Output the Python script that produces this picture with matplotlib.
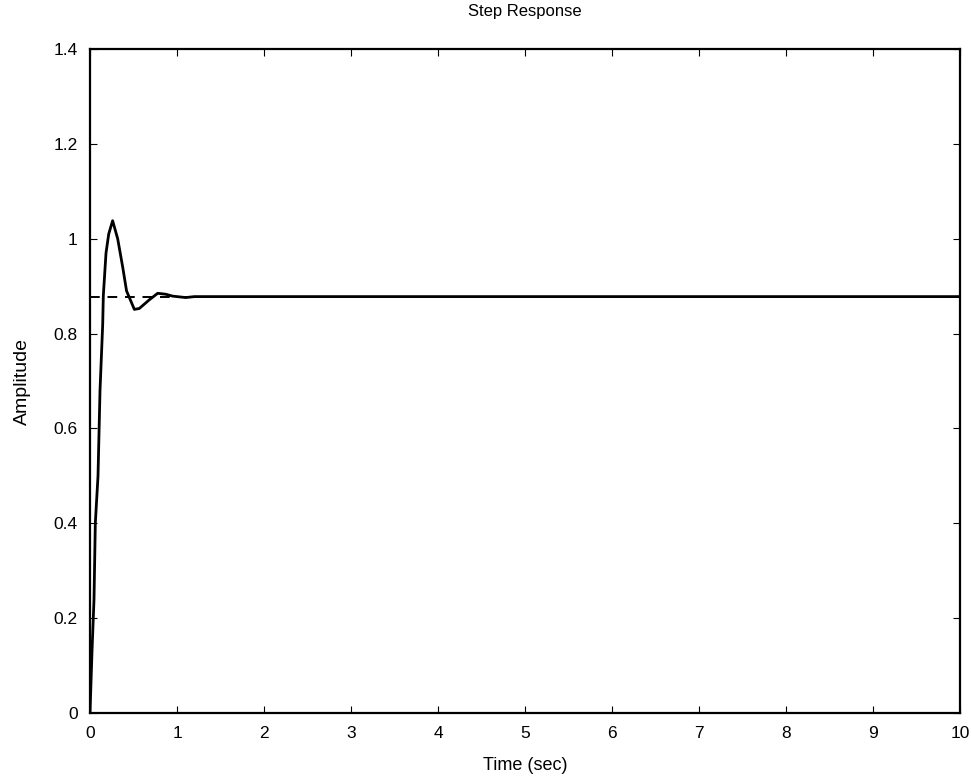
import numpy as np
import matplotlib.pyplot as plt

plt.rcParams['font.family'] = ['Liberation Sans', 'DejaVu Sans']

# step response
t = [0, 0.023, 0.046, 0.061, 0.092, 0.115, 0.146, 0.153, 0.184, 0.215, 0.26,
     0.318, 0.376, 0.42, 0.51, 0.567, 0.68, 0.778, 0.87, 0.95, 1.1, 1.2, 10]
amp = [0, 0.13, 0.24, 0.40, 0.50, 0.68, 0.82, 0.88, 0.97, 1.01, 1.038,
       1.0, 0.94, 0.89, 0.851, 0.853, 0.871, 0.885, 0.883, 0.879, 0.876, 0.878, 0.878]
final_value = 0.878

xticks = [0, 1, 2, 3, 4, 5, 6, 7, 8, 9, 10]
yticks = [0, 0.2, 0.4, 0.6, 0.8, 1, 1.2, 1.4]
ytick_labels = ['0', '0.2', '0.4', '0.6', '0.8', '1', '1.2', '1.4']

fig = plt.figure(figsize=(9.72, 7.82), dpi=100)
ax = fig.add_axes([0.0926, 0.0882, 0.8951, 0.8491])

ax.plot([0, 10], [final_value, final_value], 'k--', lw=1.4, dashes=(5, 4))
ax.plot(t, amp, 'k-', lw=2)

ax.set_xlim(0, 10)
ax.set_ylim(0, 1.4)
ax.set_xticks(xticks)
ax.set_yticks(yticks)
ax.set_yticklabels(ytick_labels)
ax.tick_params(direction='in', top=True, right=True, length=5, labelsize=12.5, pad=9)
for s in ax.spines.values():
    s.set_linewidth(1.6)

ax.set_title('Step Response', fontsize=12, pad=24)
ax.set_xlabel('Time (sec)', fontsize=13, labelpad=12)
ax.set_ylabel('Amplitude', fontsize=14, labelpad=16)

fig.savefig('out.png', dpi=100)
